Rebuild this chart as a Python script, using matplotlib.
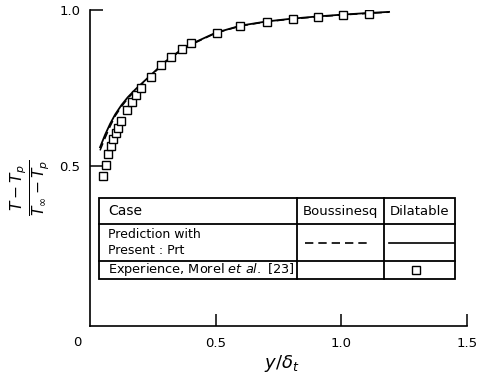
import matplotlib
matplotlib.use("Agg")
import matplotlib.pyplot as plt
from matplotlib.lines import Line2D
from matplotlib.patches import Rectangle

# ---- data ----
exp_x = [0.052, 0.063, 0.071, 0.083, 0.091, 0.103, 0.111, 0.123, 0.147, 0.167,
         0.183, 0.202, 0.242, 0.282, 0.321, 0.365, 0.401, 0.504, 0.595, 0.706,
         0.806, 0.909, 1.008, 1.111]
exp_y = [0.468, 0.503, 0.538, 0.564, 0.587, 0.606, 0.622, 0.644, 0.679, 0.705,
         0.728, 0.750, 0.785, 0.824, 0.849, 0.875, 0.894, 0.926, 0.949, 0.962,
         0.971, 0.978, 0.984, 0.987]
line_x = [0.04, 0.06, 0.08, 0.10, 0.125, 0.15, 0.18, 0.22, 0.26, 0.30, 0.35,
          0.40, 0.50, 0.60, 0.70, 0.80, 0.90, 1.00, 1.10, 1.19]
dilatable_y = [0.56, 0.60, 0.635, 0.665, 0.695, 0.72, 0.745, 0.775, 0.805, 0.835,
               0.865, 0.89, 0.927, 0.95, 0.963, 0.972, 0.979, 0.985, 0.99, 0.994]
boussinesq_y = [0.55, 0.59, 0.627, 0.66, 0.69, 0.716, 0.742, 0.773, 0.803, 0.833,
                0.863, 0.888, 0.926, 0.949, 0.962, 0.971, 0.978, 0.984, 0.989, 0.993]
xticks = [0.5, 1.0, 1.5]
xtick_labels = ["0.5", "1.0", "1.5"]
yticks = [0.5, 1.0]
ytick_labels = ["0.5", "1.0"]

W, H = 484, 373
fig = plt.figure(figsize=(W / 100, H / 100), dpi=100)

def fx(p):
    return p / W

def fy(p):
    return 1 - p / H

ax = fig.add_axes([fx(90), fy(326), fx(467) - fx(90), fy(10) - fy(326)])
ax.set_xlim(0, 1.5)
ax.set_ylim(-0.013, 1.0)
for s in ("top", "right"):
    ax.spines[s].set_visible(False)
for s in ("left", "bottom"):
    ax.spines[s].set_linewidth(1.2)

ax.plot(line_x, boussinesq_y, color="black", lw=1.1, ls=(0, (5, 3)))
ax.plot(line_x, dilatable_y, color="black", lw=1.3)
ax.plot(exp_x, exp_y, ls="none", marker="s", ms=6, mfc="white", mec="black", mew=1.0)

ax.set_xticks(xticks)
ax.set_xticklabels(xtick_labels)
ax.set_yticks(yticks)
ax.set_yticklabels(ytick_labels)
ax.tick_params(direction="in", length=9, width=1.1, labelsize=9.5)
ax.tick_params(axis="x", pad=8)
ax.tick_params(axis="y", pad=7)

fig.text(fx(77), fy(343), "0", ha="center", va="center", fontsize=9.5)
fig.text(fx(282), fy(364), r"$y/\delta_t$", ha="center", va="center", fontsize=13,
         fontweight="bold")
fig.text(fx(30), fy(188), r"$\frac{T-T_p}{T_\infty-T_p}$", ha="center", va="center",
         rotation=90, fontsize=16)

# ---- table ----
xs = [99, 297, 384, 455]
ys = [198, 224, 261, 279]
lw = 1.3
fig.add_artist(Rectangle((fx(xs[0]), fy(ys[-1])), fx(xs[-1]) - fx(xs[0]),
                         fy(ys[0]) - fy(ys[-1]), transform=fig.transFigure,
                         facecolor="white", edgecolor="black", lw=lw, zorder=5))
for yy in ys[1:-1]:
    fig.add_artist(Line2D([fx(xs[0]), fx(xs[-1])], [fy(yy), fy(yy)],
                          transform=fig.transFigure, color="black", lw=lw, zorder=6))
for xx in xs[1:-1]:
    fig.add_artist(Line2D([fx(xx), fx(xx)], [fy(ys[0]), fy(ys[-1])],
                          transform=fig.transFigure, color="black", lw=lw, zorder=6))

tkw = dict(zorder=7, va="center")
fig.text(fx(108), fy(211), "Case", ha="left", fontsize=10, **tkw)
fig.text(fx(340.5), fy(211), "Boussinesq", ha="center", fontsize=9.5, **tkw)
fig.text(fx(419.5), fy(211), "Dilatable", ha="center", fontsize=9.5, **tkw)
fig.text(fx(108), fy(235), "Prediction with", ha="left", fontsize=9, **tkw)
fig.text(fx(108), fy(251), "Present : Prt", ha="left", fontsize=9, **tkw)
fig.text(fx(108), fy(270), "Experience, Morel $\\it{et\\ al.}$ [23]", ha="left",
         fontsize=9.3, **tkw)
fig.add_artist(Line2D([fx(305), fx(370)], [fy(243), fy(243)], transform=fig.transFigure,
                      color="black", lw=1.2, ls=(0, (5, 3)), zorder=7))
fig.add_artist(Line2D([fx(389), fx(454)], [fy(243), fy(243)], transform=fig.transFigure,
                      color="black", lw=1.2, zorder=7))
fig.add_artist(Line2D([fx(416)], [fy(270)], transform=fig.transFigure, ls="none",
                      marker="s", ms=5.5, mfc="white", mec="black", mew=1.0, zorder=7))

fig.savefig("out.png", dpi=100)
